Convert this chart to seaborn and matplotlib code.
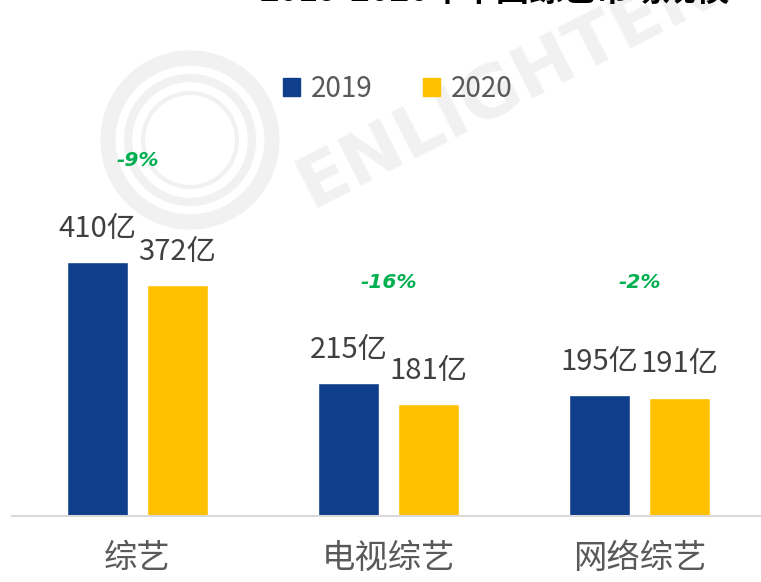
import pandas as pd
import matplotlib.pyplot as plt
import seaborn as sns
from matplotlib.patches import Ellipse

# data
categories = ['综艺', '电视综艺', '网络综艺']
years = ['2019', '2020']
values_2019 = [410, 215, 195]
values_2020 = [372, 181, 191]
changes = ['-9%', '-16%', '-2%']
change_y = [574, 376, 376]

colors = ['#0F3E8A', '#FFC000']

sns.set_theme(style="white")
plt.rcParams['font.family'] = ['Noto Sans CJK SC', 'DejaVu Sans']

df = pd.DataFrame({
    'category': categories * 2,
    'year': [years[0]] * 3 + [years[1]] * 3,
    'value': values_2019 + values_2020,
})

W, H = 761, 582
fig = plt.figure(figsize=(W / 100, H / 100), dpi=100)
ax = fig.add_axes([12 / W, 66 / H, 753 / W, 516 / H])
ax.set_zorder(2)

# faint watermark (logo rings + name), behind the chart
for r, lw in [(82, 11), (62, 6), (47, 3)]:
    fig.add_artist(Ellipse((190 / W, 1 - 140 / H), 2 * r / W, 2 * r / H,
                           transform=fig.transFigure, fill=False,
                           edgecolor='#f1f1f1', linewidth=lw, zorder=0))
fig.text(530 / W, 1 - 75 / H, 'ENLIGHTENT', fontsize=52, fontweight='bold', color='#f1f1f1',
         rotation=27, ha='center', va='center', zorder=0, family=['DejaVu Sans'])

sns.barplot(data=df, x='category', y='value', hue='year', palette=colors,
            width=0.637, gap=0.24, saturation=1, ax=ax, legend=False)

ax.set_xlim(-0.5, 2.5)
ax.set_ylim(0, 832)
ax.set_facecolor('none')

# value labels
for container in ax.containers:
    labels = [f'{int(v)}亿' for v in container.datavalues]
    ax.bar_label(container, labels=labels, padding=13, fontsize=21, color='#404040')

# change labels
for i, txt in enumerate(changes):
    ax.text(i, change_y[i], txt, ha='center', va='center', fontsize=14.5,
            fontweight='bold', fontstyle='italic', color='#00B050',
            family=['DejaVu Sans'])

# legend
handles = [plt.Rectangle((0, 0), 1, 1, color=c) for c in colors]
fig.legend(handles, years, loc='center', bbox_to_anchor=(398 / W, 1 - 89 / H),
           ncol=2, frameon=False, fontsize=20, labelcolor='#595959',
           handlelength=0.6, handleheight=0.6, handletextpad=0.4, columnspacing=1.8)

sns.despine(ax=ax, left=True)
ax.spines['bottom'].set_color('#d9d9d9')
ax.spines['bottom'].set_linewidth(1.5)
ax.set_yticks([])
ax.set_xlabel('')
ax.set_ylabel('')
ax.tick_params(axis='x', length=0, pad=18, labelsize=24, labelcolor='#595959')

# title, mostly off the top of the canvas (as in the reference)
fig.text(495 / W, 1 - 8 / H, '2019-2020年中国综艺市场规模', ha='center', va='bottom',
         fontsize=24, fontweight='bold', color='black')

fig.savefig('out.png', dpi=100)
plt.close(fig)
